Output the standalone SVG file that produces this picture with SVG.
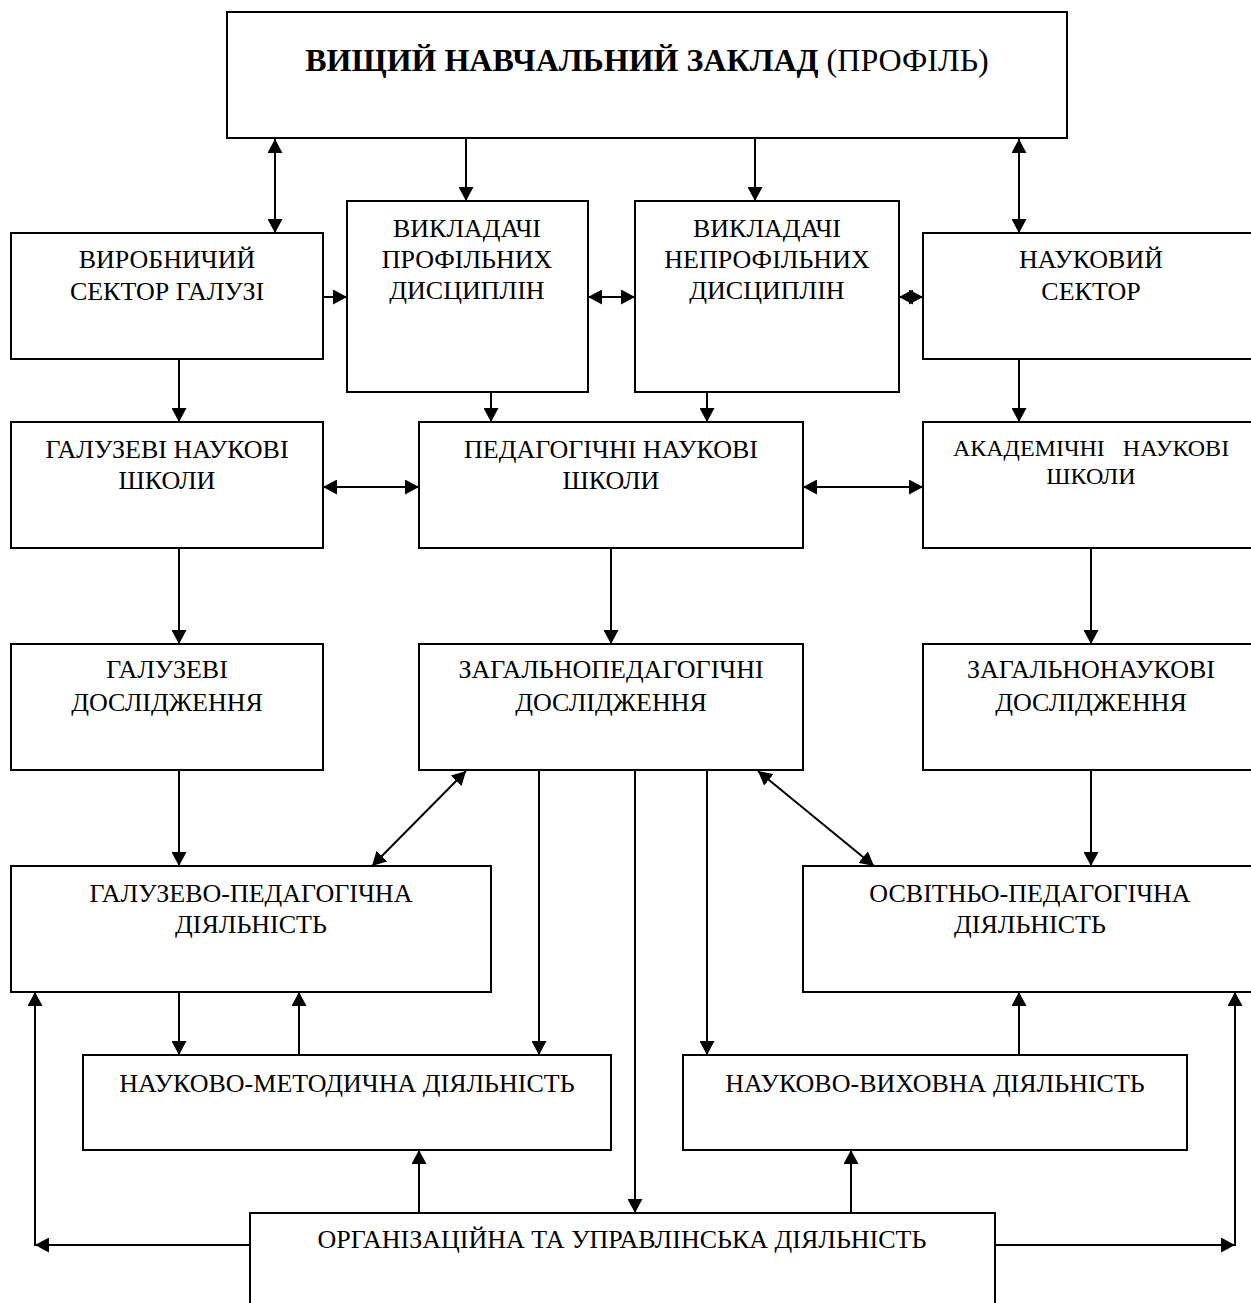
<svg xmlns="http://www.w3.org/2000/svg" width="1251" height="1303" viewBox="0 0 1251 1303">
  <style>
    .box { fill: #fff; stroke: #000; stroke-width: 2; }
    .lbl { font-family: "Liberation Serif", "Times New Roman", serif; font-size: 26px; fill: #000; text-anchor: middle; }
    .small { font-size: 24px; }
    .title { font-size: 32px; }
    .b { font-weight: bold; }
    .link { fill: none; stroke: #000; stroke-width: 2; }
    .one { marker-end: url(#head); }
    .two { marker-start: url(#head); marker-end: url(#head); }
  </style>
  <defs>
    <marker id="head" viewBox="0 0 14 15" refX="14" refY="7.5" markerWidth="14" markerHeight="15" markerUnits="userSpaceOnUse" orient="auto-start-reverse">
      <path d="M0,0 L14,7.5 L0,15 z" fill="#000"/>
    </marker>
  </defs>

  <rect width="1251" height="1303" fill="#fff"/>

  <!-- connectors -->
  <g id="connectors">
    <line class="link one" x1="466" y1="138" x2="466" y2="201"/>
    <line class="link one" x1="755" y1="138" x2="755" y2="201"/>
    <line class="link two" x1="275" y1="139" x2="275" y2="233"/>
    <line class="link two" x1="1019" y1="139" x2="1019" y2="233"/>

    <line class="link one" x1="323" y1="297" x2="347" y2="297"/>
    <line class="link two" x1="588" y1="297" x2="635" y2="297"/>
    <line class="link two" x1="899" y1="297" x2="923" y2="297"/>

    <line class="link one" x1="179" y1="359" x2="179" y2="422"/>
    <line class="link one" x1="491" y1="392" x2="491" y2="422"/>
    <line class="link one" x1="707" y1="392" x2="707" y2="422"/>
    <line class="link one" x1="1019" y1="359" x2="1019" y2="422"/>

    <line class="link two" x1="323" y1="487" x2="419" y2="487"/>
    <line class="link two" x1="803" y1="487" x2="923" y2="487"/>

    <line class="link one" x1="179" y1="548" x2="179" y2="644"/>
    <line class="link one" x1="611" y1="548" x2="611" y2="644"/>
    <line class="link one" x1="1091" y1="548" x2="1091" y2="644"/>

    <line class="link one" x1="179" y1="770" x2="179" y2="866"/>
    <line class="link two" x1="466" y1="771" x2="372" y2="866"/>
    <line class="link two" x1="758" y1="771" x2="874" y2="866"/>
    <line class="link one" x1="1091" y1="770" x2="1091" y2="866"/>

    <line class="link one" x1="539" y1="770" x2="539" y2="1055"/>
    <line class="link one" x1="635" y1="770" x2="635" y2="1213"/>
    <line class="link one" x1="707" y1="770" x2="707" y2="1055"/>

    <line class="link one" x1="179" y1="992" x2="179" y2="1055"/>
    <line class="link one" x1="299" y1="1055" x2="299" y2="992"/>
    <line class="link one" x1="1019" y1="1055" x2="1019" y2="992"/>

    <line class="link one" x1="419" y1="1213" x2="419" y2="1150"/>
    <line class="link one" x1="851" y1="1213" x2="851" y2="1150"/>

    <line class="link one" x1="250" y1="1245" x2="35" y2="1245"/>
    <line class="link one" x1="35" y1="1246" x2="35" y2="992"/>
    <line class="link one" x1="995" y1="1245" x2="1235" y2="1245"/>
    <line class="link one" x1="1235" y1="1246" x2="1235" y2="992"/>
  </g>

  <!-- nodes -->
  <g id="vnz">
    <rect class="box" x="227" y="12" width="840" height="126"/>
    <text class="lbl title" x="647" y="71"><tspan class="b">ВИЩИЙ НАВЧАЛЬНИЙ ЗАКЛАД</tspan> (ПРОФІЛЬ)</text>
  </g>

  <g id="vyrobnychyi-sektor">
    <rect class="box" x="11" y="233" width="312" height="126"/>
    <text class="lbl" x="167" y="268">ВИРОБНИЧИЙ</text>
    <text class="lbl" x="167" y="300">СЕКТОР ГАЛУЗІ</text>
  </g>

  <g id="vykladachi-profilni">
    <rect class="box" x="347" y="201" width="241" height="191"/>
    <text class="lbl" x="467" y="237">ВИКЛАДАЧІ</text>
    <text class="lbl" x="467" y="268">ПРОФІЛЬНИХ</text>
    <text class="lbl" x="467" y="299">ДИСЦИПЛІН</text>
  </g>

  <g id="vykladachi-neprofilni">
    <rect class="box" x="635" y="201" width="264" height="191"/>
    <text class="lbl" x="767" y="237">ВИКЛАДАЧІ</text>
    <text class="lbl" x="767" y="268">НЕПРОФІЛЬНИХ</text>
    <text class="lbl" x="767" y="299">ДИСЦИПЛІН</text>
  </g>

  <g id="naukovyi-sektor">
    <rect class="box" x="923" y="233" width="340" height="126"/>
    <text class="lbl" x="1091" y="268">НАУКОВИЙ</text>
    <text class="lbl" x="1091" y="300">СЕКТОР</text>
  </g>

  <g id="haluzevi-shkoly">
    <rect class="box" x="11" y="422" width="312" height="126"/>
    <text class="lbl" x="167" y="458">ГАЛУЗЕВІ НАУКОВІ</text>
    <text class="lbl" x="167" y="489">ШКОЛИ</text>
  </g>

  <g id="pedahohichni-shkoly">
    <rect class="box" x="419" y="422" width="384" height="126"/>
    <text class="lbl" x="611" y="458">ПЕДАГОГІЧНІ НАУКОВІ</text>
    <text class="lbl" x="611" y="489">ШКОЛИ</text>
  </g>

  <g id="akademichni-shkoly">
    <rect class="box" x="923" y="422" width="340" height="126"/>
    <text class="lbl small" x="1091" y="456" xml:space="preserve">АКАДЕМІЧНІ   НАУКОВІ</text>
    <text class="lbl small" x="1091" y="484">ШКОЛИ</text>
  </g>

  <g id="haluzevi-doslidzhennia">
    <rect class="box" x="11" y="644" width="312" height="126"/>
    <text class="lbl" x="167" y="678">ГАЛУЗЕВІ</text>
    <text class="lbl" x="167" y="711">ДОСЛІДЖЕННЯ</text>
  </g>

  <g id="zahalnopedahohichni">
    <rect class="box" x="419" y="644" width="384" height="126"/>
    <text class="lbl" x="611" y="678">ЗАГАЛЬНОПЕДАГОГІЧНІ</text>
    <text class="lbl" x="611" y="711">ДОСЛІДЖЕННЯ</text>
  </g>

  <g id="zahalnonaukovi">
    <rect class="box" x="923" y="644" width="340" height="126"/>
    <text class="lbl" x="1091" y="678">ЗАГАЛЬНОНАУКОВІ</text>
    <text class="lbl" x="1091" y="711">ДОСЛІДЖЕННЯ</text>
  </g>

  <g id="haluzevo-pedahohichna">
    <rect class="box" x="11" y="866" width="480" height="126"/>
    <text class="lbl" x="251" y="902">ГАЛУЗЕВО-ПЕДАГОГІЧНА</text>
    <text class="lbl" x="251" y="933">ДІЯЛЬНІСТЬ</text>
  </g>

  <g id="osvitno-pedahohichna">
    <rect class="box" x="803" y="866" width="460" height="126"/>
    <text class="lbl" x="1030" y="902">ОСВІТНЬО-ПЕДАГОГІЧНА</text>
    <text class="lbl" x="1030" y="933">ДІЯЛЬНІСТЬ</text>
  </g>

  <g id="naukovo-metodychna">
    <rect class="box" x="83" y="1055" width="528" height="95"/>
    <text class="lbl" x="347" y="1092">НАУКОВО-МЕТОДИЧНА ДІЯЛЬНІСТЬ</text>
  </g>

  <g id="naukovo-vykhovna">
    <rect class="box" x="683" y="1055" width="504" height="95"/>
    <text class="lbl" x="935" y="1092">НАУКОВО-ВИХОВНА ДІЯЛЬНІСТЬ</text>
  </g>

  <g id="orhanizatsiina">
    <rect class="box" x="250" y="1213" width="745" height="100"/>
    <text class="lbl" x="622" y="1248">ОРГАНІЗАЦІЙНА ТА УПРАВЛІНСЬКА ДІЯЛЬНІСТЬ</text>
  </g>
</svg>
